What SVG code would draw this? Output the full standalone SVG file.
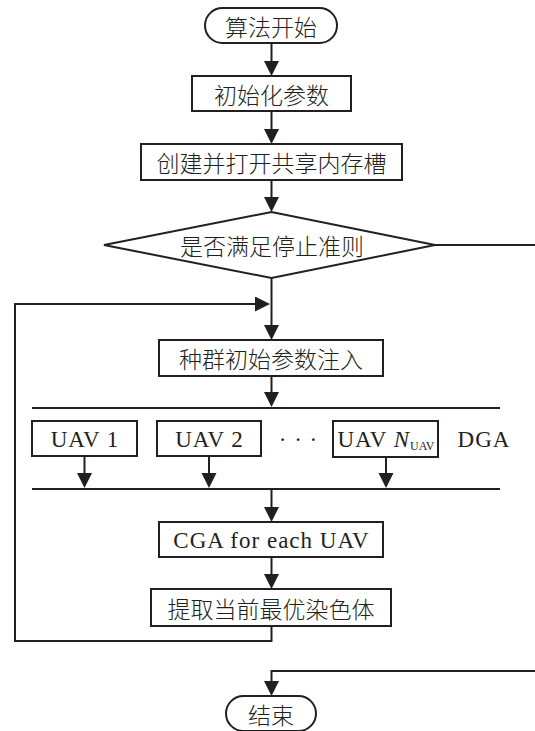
<svg xmlns="http://www.w3.org/2000/svg" width="535" height="731" viewBox="0 0 535 731">
<style>
.box{fill:#fff;stroke:#231f20;stroke-width:2}
.ln{fill:none;stroke:#231f20;stroke-width:2}
.cn{font-family:"Noto Sans CJK SC","Noto Sans CJK JP",sans-serif;font-size:23px;font-weight:300;fill:#231f20;text-anchor:middle;dominant-baseline:central}
.en{font-family:"Liberation Serif","Times New Roman",serif;font-size:23px;letter-spacing:1px;fill:#231f20;text-anchor:middle}
</style>
<defs>
<marker id="ah" markerUnits="userSpaceOnUse" markerWidth="16" markerHeight="16" refX="11" refY="7.5" orient="auto" viewBox="0 0 16 16">
<path d="M0,0 L15,7.5 L0,15 Z" fill="#231f20"/>
</marker>
</defs>
<rect width="535" height="731" fill="#fff"/>
<g id="connectors">
<path class="ln" d="M271.5,43 V72" marker-end="url(#ah)"/>
<path class="ln" d="M271.5,111 V140" marker-end="url(#ah)"/>
<path class="ln" d="M271.5,180 V208" marker-end="url(#ah)"/>
<path class="ln" d="M271.5,278 V336" marker-end="url(#ah)"/>
<path class="ln" d="M271.5,376 V403" marker-end="url(#ah)"/>
<path class="ln" d="M32,408 H500"/>
<path class="ln" d="M84.5,456 V484" marker-end="url(#ah)"/>
<path class="ln" d="M209,456 V484" marker-end="url(#ah)"/>
<path class="ln" d="M386,457 V484" marker-end="url(#ah)"/>
<path class="ln" d="M32,489 H500"/>
<path class="ln" d="M271.5,489 V518" marker-end="url(#ah)"/>
<path class="ln" d="M271.5,557 V585" marker-end="url(#ah)"/>
<path class="ln" d="M271.5,626 V641 H15 V304 H266" marker-end="url(#ah)"/>
<path class="ln" d="M435,245 H535"/>
<path class="ln" d="M535,671 H271.5 V692" marker-end="url(#ah)"/>
</g>
<g id="start">
<rect class="box" x="205" y="8" width="132" height="35" rx="17.5"/>
<text class="cn" x="271" y="25.5">算法开始</text>
</g>
<g id="init">
<rect class="box" x="192" y="76" width="159" height="35"/>
<text class="cn" x="271.5" y="93.5">初始化参数</text>
</g>
<g id="create">
<rect class="box" x="141" y="144" width="261" height="36"/>
<text class="cn" x="271.5" y="162">创建并打开共享内存槽</text>
</g>
<g id="decision">
<polygon class="box" points="104,245 271.5,212 435,245 271.5,278"/>
<text class="cn" x="272" y="245">是否满足停止准则</text>
</g>
<g id="inject">
<rect class="box" x="159" y="340" width="224" height="36"/>
<text class="cn" x="271" y="358">种群初始参数注入</text>
</g>
<g id="uav1">
<rect class="box" x="32" y="421" width="105" height="35"/>
<text class="en" x="85" y="446.5">UAV 1</text>
</g>
<g id="uav2">
<rect class="box" x="157" y="421" width="104" height="35"/>
<text class="en" x="209.5" y="446.5">UAV 2</text>
</g>
<g id="dots">
<text class="en" x="298.5" y="446.5">· · ·</text>
</g>
<g id="uavn">
<rect class="box" x="333" y="421" width="105" height="36"/>
<text class="en" x="386" y="446.5" letter-spacing="0.5">UAV <tspan font-style="italic">N</tspan><tspan font-size="12" dy="3" letter-spacing="0">UAV</tspan></text>
</g>
<g id="dga">
<text class="en" x="484" y="447">DGA</text>
</g>
<g id="cga">
<rect class="box" x="159" y="522" width="224" height="35"/>
<text class="en" x="271.5" y="547.5" font-size="24">CGA for each UAV</text>
</g>
<g id="extract">
<rect class="box" x="151" y="589" width="240" height="37"/>
<text class="cn" x="271" y="607.5">提取当前最优染色体</text>
</g>
<g id="end">
<rect class="box" x="226" y="696" width="90" height="35" rx="17.5"/>
<text class="cn" x="271" y="713.5">结束</text>
</g>
</svg>
